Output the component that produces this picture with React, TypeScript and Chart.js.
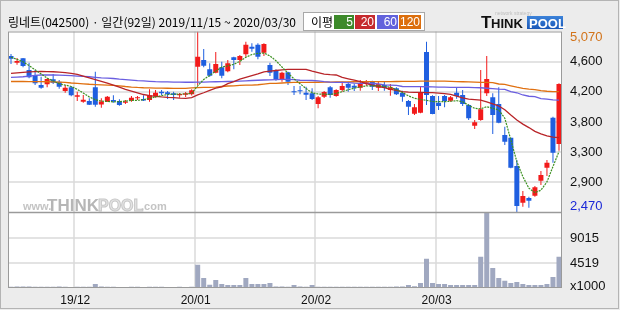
import React, { useEffect, useRef } from "react";
import { Chart, registerables } from "chart.js";

Chart.register(...registerables);

// ---------- data ----------
const dates = [
  "19/11/15","19/11/18","19/11/19","19/11/20","19/11/21","19/11/22","19/11/25","19/11/26","19/11/27","19/11/28","19/11/29",
  "19/12/02","19/12/03","19/12/04","19/12/05","19/12/06","19/12/09","19/12/10","19/12/11","19/12/12","19/12/13",
  "19/12/16","19/12/17","19/12/18","19/12/19","19/12/20","19/12/23","19/12/24","19/12/26","19/12/27","19/12/30",
  "20/01/02","20/01/03","20/01/06","20/01/07","20/01/08","20/01/09","20/01/10","20/01/13","20/01/14","20/01/15",
  "20/01/16","20/01/17","20/01/20","20/01/21","20/01/22","20/01/23","20/01/28","20/01/29","20/01/30","20/01/31",
  "20/02/03","20/02/04","20/02/05","20/02/06","20/02/07","20/02/10","20/02/11","20/02/12","20/02/13","20/02/14",
  "20/02/17","20/02/18","20/02/19","20/02/20","20/02/21","20/02/24","20/02/25","20/02/26","20/02/27","20/02/28",
  "20/03/02","20/03/03","20/03/04","20/03/05","20/03/06","20/03/09","20/03/10","20/03/11","20/03/12","20/03/13",
  "20/03/16","20/03/17","20/03/18","20/03/19","20/03/20","20/03/23","20/03/24","20/03/25","20/03/26","20/03/27",
  "20/03/30",
];

const openPrices = [
  4718,4622,4684,4517,4445,4301,4311,4383,4349,4215,
  4268,4134,4062,4072,4268,4020,4065,4086,4072,4048,
  4081,4110,4100,4086,4143,4206,4196,4182,4153,4160,
  4167,4565,4661,4526,4479,4555,4498,4699,4661,4742,
  4852,4881,4766,4589,4503,4373,4484,4206,4220,4191,
  4182,4029,4134,4268,4143,4230,4316,4292,4263,4316,
  4349,4263,4301,4230,4254,4191,4072,3890,3904,4775,
  4144,4048,4144,4077,4191,4158,4014,3717,3799,4182,
  4124,4029,3583,3545,3138,2611,2678,2712,2927,3114,
  3832,3454,
];
const highPrices = [
  4747,4689,4689,4622,4517,4421,4397,4459,4373,4301,
  4287,4206,4158,4110,4493,4110,4144,4153,4096,4086,
  4144,4144,4153,4240,4230,4230,4215,4206,4187,4200,
  4240,5070,4819,4613,4776,4637,4661,4708,4732,4924,
  4900,4900,4900,4622,4527,4493,4493,4287,4287,4278,
  4254,4144,4215,4287,4239,4349,4349,4320,4373,4373,
  4364,4349,4349,4316,4268,4220,4086,4029,4287,4924,
  4153,4144,4158,4144,4268,4230,4029,3799,4517,4718,
  4182,4268,3703,3545,3224,2779,2697,2851,3066,3224,
  3846,4325,
];
const lowPrices = [
  4603,4594,4555,4397,4301,4249,4268,4316,4249,4191,
  4139,4072,4048,4014,3990,3976,4058,4048,4005,4029,
  4062,4086,4072,4062,4120,4158,4100,4086,4120,4130,
  4150,4301,4555,4421,4469,4397,4483,4526,4589,4708,
  4780,4670,4718,4431,4364,4349,4301,4158,4167,4086,
  4086,3966,4115,4120,4134,4206,4206,4215,4220,4287,
  4230,4215,4220,4148,4158,4062,3871,3871,3894,4014,
  3880,3943,3981,4062,4105,4000,3799,3670,3789,4144,
  3598,3751,3440,3105,2470,2554,2539,2697,2865,2994,
  3186,3358,
];
const closePrices = [
  4680,4646,4574,4412,4325,4263,4388,4335,4278,4263,
  4153,4153,4091,4019,4019,4065,4132,4065,4014,4060,
  4120,4124,4078,4153,4191,4182,4167,4158,4172,4182,
  4225,4708,4579,4436,4603,4436,4613,4661,4718,4881,
  4823,4708,4890,4479,4383,4479,4349,4196,4211,4163,
  4100,4124,4201,4158,4230,4287,4263,4263,4325,4340,
  4278,4316,4258,4268,4167,4134,3990,3981,4196,4158,
  3885,4000,4072,4124,4143,4029,3823,3765,3952,4388,
  3870,3760,3487,3114,2564,2707,2640,2832,3009,3186,
  3330,4316,
];
// volume in thousands of shares
const volumes = [
  230,250,280,260,240,220,230,210,250,230,
  200,220,240,210,720,260,230,210,200,190,
  220,210,200,230,240,210,200,190,210,200,
  220,4150,1800,600,1440,720,540,540,540,1800,
  720,720,720,900,260,250,240,540,250,240,
  540,230,220,240,230,220,210,230,240,220,
  230,210,220,240,250,260,540,300,900,5230,
  900,720,720,540,540,540,540,540,5590,13523,
  3600,1800,1320,900,1080,720,540,540,540,720,
  1980,5590,
];
const ma5 = [
  4700,4670,4635,4580,4520,4460,4400,4360,4320,4300,
  4280,4240,4185,4130,4090,4070,4065,4060,4062,4070,
  4080,4082,4090,4110,4130,4150,4165,4170,4172,4172,
  4182,4290,4380,4440,4500,4560,4575,4600,4640,4700,
  4740,4755,4760,4720,4650,4560,4470,4390,4320,4250,
  4190,4172,4170,4165,4180,4206,4235,4255,4275,4287,
  4290,4290,4282,4270,4235,4195,4145,4110,4095,4080,
  4065,4062,4062,4068,4076,4060,4010,3966,3960,3990,
  3968,3942,3825,3515,3200,2985,2820,2755,2790,2910,
  3130,3345,
];
const ma20 = [
  4469,4475,4482,4490,4495,4497,4495,4492,4487,4480,
  4470,4455,4430,4405,4380,4355,4328,4300,4270,4240,
  4215,4190,4165,4150,4138,4130,4124,4120,4114,4110,
  4120,4160,4190,4225,4255,4275,4320,4350,4385,4410,
  4435,4460,4490,4500,4510,4520,4526,4526,4526,4526,
  4500,4480,4458,4450,4445,4410,4390,4370,4350,4320,
  4300,4280,4265,4240,4225,4206,4200,4196,4196,4193,
  4191,4185,4178,4167,4140,4115,4100,4092,4085,4060,
  4030,4000,3945,3870,3800,3740,3690,3635,3600,3570,
  3552,3545,
];
const ma60 = [
  4410,4415,4420,4430,4440,4445,4445,4445,4443,4440,
  4435,4430,4425,4420,4412,4405,4400,4395,4385,4380,
  4372,4365,4360,4355,4350,4347,4345,4343,4342,4341,
  4341,4342,4344,4346,4348,4350,4352,4355,4358,4362,
  4366,4370,4373,4376,4380,4383,4383,4380,4370,4368,
  4366,4360,4350,4343,4340,4338,4335,4328,4325,4325,
  4323,4318,4303,4300,4295,4280,4278,4278,4278,4276,
  4274,4272,4270,4268,4268,4267,4266,4265,4262,4255,
  4249,4242,4238,4206,4190,4158,4140,4134,4105,4100,
  4088,4084,
];
const ma120 = [
  4352,4352,4352,4350,4350,4350,4348,4346,4344,4340,
  4330,4325,4318,4312,4308,4304,4300,4296,4290,4280,
  4272,4266,4262,4260,4258,4256,4255,4254,4254,4254,
  4260,4265,4268,4268,4270,4280,4287,4290,4295,4300,
  4301,4305,4315,4325,4325,4330,4335,4340,4340,4340,
  4340,4341,4342,4344,4345,4346,4347,4348,4349,4349,
  4349,4350,4350,4351,4352,4353,4354,4355,4356,4357,
  4357,4357,4356,4354,4350,4348,4345,4342,4340,4338,
  4335,4316,4310,4290,4270,4254,4242,4236,4220,4212,
  4206,4205,
];

// axis values / labels
const priceMin = 2470;
const priceMax = 5070;
const priceTickLabels = ["5,070", "4,600", "4,200", "3,800", "3,300", "2,900", "2,470"];
const volMax = 13523;
const volTickValues = [9015, 4519];
const volTickLabels = ["9015", "4519"];
const volUnitLabel = "x1000";
const monthStartDates = ["19/12/02", "20/01/02", "20/02/03", "20/03/02"];
const monthLabels = ["19/12", "20/01", "20/02", "20/03"];
const titleText = "링네트(042500) · 일간(92일) 2019/11/15 ~ 2020/03/30";
const legendTitle = "이평";
const maLabels = ["5", "20", "60", "120"];

// ---------- styles ----------
const UP = "#f21a1a";
const DOWN = "#1f5fe0";
const VOL = "#a0a8c0";
const MA_COLORS = ["#3b9020", "#b82428", "#6a5ee0", "#e07010"];
const LEGEND_COLORS = ["#3d8a2b", "#c62a2e", "#6262dc", "#dc6e0c"];
const BG = "#ececec";
const GRID = "#dadada";
const BORDER = "#9a9a9a";
const NUM_FONT = "'Liberation Sans Narrow', 'Liberation Sans', sans-serif";

const framePlugin = {
  id: "frame",
  beforeDraw(chart: any) {
    const { ctx, chartArea: a, scales } = chart;
    const x = scales.x, y = scales.y, v = scales.v;
    ctx.save();
    ctx.fillStyle = BG;
    ctx.fillRect(0, 0, chart.width, chart.height);
    ctx.strokeStyle = "#b4b4b4";
    ctx.lineWidth = 1;
    ctx.strokeRect(0.5, 0.5, chart.width - 2, chart.height - 2);
    ctx.fillStyle = "#ffffff";
    ctx.fillRect(a.left, a.top, a.right - a.left, a.bottom - a.top);

    ctx.strokeStyle = GRID;
    ctx.lineWidth = 1.5;
    // price grid (6 equal divisions)
    for (let k = 1; k < priceTickLabels.length - 1; k++) {
      const py = Math.round(y.getPixelForValue(priceMax - (k * (priceMax - priceMin)) / (priceTickLabels.length - 1)));
      ctx.beginPath(); ctx.moveTo(a.left, py); ctx.lineTo(a.right, py); ctx.stroke();
    }
    for (const val of volTickValues) {
      const py = Math.round(v.getPixelForValue(val));
      ctx.beginPath(); ctx.moveTo(a.left, py); ctx.lineTo(a.right, py); ctx.stroke();
    }
    const slot = (a.right - a.left) / dates.length;
    for (const d of monthStartDates) {
      const idx = dates.indexOf(d);
      const px = Math.round(x.getPixelForValue(idx) - slot / 2);
      ctx.beginPath(); ctx.moveTo(px, a.top); ctx.lineTo(px, a.bottom); ctx.stroke();
    }

    // watermark
    const wy = y.bottom - 3;
    ctx.textBaseline = "alphabetic";
    ctx.textAlign = "left";
    ctx.fillStyle = "#c4c4c4";
    ctx.font = "bold 11px 'Liberation Sans', sans-serif";
    ctx.fillText("www.", 23, wy);
    ctx.fillStyle = "#b6b6b6";
    ctx.font = "bold 17px 'Liberation Sans', sans-serif";
    ctx.fillText("THINK", 47, wy + 1);
    ctx.font = "bold 16px 'Liberation Sans', sans-serif";
    ctx.fillStyle = "#e4e4e4";
    ctx.strokeStyle = "#c8c8c8";
    ctx.lineWidth = 1;
    ctx.fillText("POOL", 98, wy + 1);
    ctx.strokeText("POOL", 98, wy + 1);
    ctx.fillStyle = "#c4c4c4";
    ctx.font = "bold 11px 'Liberation Sans', sans-serif";
    ctx.fillText(".com", 141, wy);
    ctx.restore();
  },
  afterDraw(chart: any) {
    const { ctx, chartArea: a, scales } = chart;
    const x = scales.x, y = scales.y, v = scales.v;
    ctx.save();
    // borders
    ctx.strokeStyle = BORDER;
    ctx.lineWidth = 1;
    ctx.strokeRect(a.left + 0.5, a.top + 0.5, a.right - a.left - 1, a.bottom - a.top - 1);
    ctx.lineWidth = 1.5;
    ctx.beginPath(); ctx.moveTo(a.left, y.bottom); ctx.lineTo(a.right, y.bottom); ctx.stroke();

    // price labels
    ctx.font = "13px " + NUM_FONT;
    ctx.textAlign = "left";
    ctx.textBaseline = "middle";
    const n = priceTickLabels.length;
    for (let k = 0; k < n; k++) {
      let py = y.getPixelForValue(priceMax - (k * (priceMax - priceMin)) / (n - 1));
      py = Math.min(Math.max(py, y.top + 6), y.bottom - 6);
      ctx.fillStyle = k === 0 ? "#d2731a" : k === n - 1 ? "#1a28d8" : "#111111";
      ctx.fillText(priceTickLabels[k], a.right + 8, py);
    }
    ctx.fillStyle = "#111111";
    volTickValues.forEach((val, i) => {
      ctx.fillText(volTickLabels[i], a.right + 8, v.getPixelForValue(val) + 1);
    });
    ctx.fillText(volUnitLabel, a.right + 8, v.bottom - 2);

    // month labels
    const slot = (a.right - a.left) / dates.length;
    ctx.textAlign = "center";
    ctx.font = "12px 'Liberation Sans', sans-serif";
    monthStartDates.forEach((d, i) => {
      const idx = dates.indexOf(d);
      ctx.fillText(monthLabels[i], x.getPixelForValue(idx) - slot / 2 + 1, a.bottom + 13);
    });

    // title
    ctx.textAlign = "left";
    ctx.fillStyle = "#000000";
    ctx.font = "12px 'Noto Sans CJK KR', sans-serif";
    ctx.fillText(titleText, 8, 22.5);

    // MA legend box
    ctx.fillStyle = "#ffffff";
    ctx.fillRect(303, 12, 122, 19);
    ctx.strokeStyle = "#a8a8a8";
    ctx.lineWidth = 1;
    ctx.strokeRect(303.5, 12.5, 121, 18);
    ctx.fillStyle = "#000000";
    ctx.font = "12px 'Noto Sans CJK KR', sans-serif";
    ctx.fillText(legendTitle, 311, 22);
    const cellX = [334, 355, 377, 399];
    const cellW = [20, 20, 21, 22];
    ctx.font = "12px " + NUM_FONT;
    ctx.textAlign = "right";
    maLabels.forEach((lab, i) => {
      ctx.fillStyle = LEGEND_COLORS[i];
      ctx.fillRect(cellX[i], 15, cellW[i], 14);
      ctx.fillStyle = "#ffffff";
      ctx.fillText(lab, cellX[i] + cellW[i] - 1, 22.5);
    });

    // logo
    ctx.textAlign = "left";
    ctx.textBaseline = "alphabetic";
    ctx.fillStyle = "#111111";
    ctx.font = "bold 17px 'Liberation Sans', sans-serif";
    ctx.fillText("T", 481, 28);
    ctx.font = "bold 13px 'Liberation Sans', sans-serif";
    ctx.fillText("HINK", 491, 28);
    const grad = ctx.createLinearGradient(0, 15, 0, 29);
    grad.addColorStop(0, "#3f86dc");
    grad.addColorStop(1, "#1a58b8");
    ctx.fillStyle = grad;
    ctx.fillRect(527, 16, 36, 13);
    ctx.fillStyle = "#ffffff";
    ctx.font = "bold 13px 'Liberation Sans', sans-serif";
    ctx.fillText("POOL", 529, 28);
    ctx.fillStyle = "#c0c0c0";
    ctx.font = "5px 'Liberation Sans', sans-serif";
    ctx.fillText("network strategy", 495, 15);
    ctx.restore();
  },
};

export default function App() {
  const ref = useRef<HTMLCanvasElement | null>(null);
  useEffect(() => {
    if (!ref.current) return;
    const bodyColors = openPrices.map((o, i) => (closePrices[i] >= o ? UP : DOWN));
    const maSets = [ma5, ma20, ma60, ma120].map((d, i) => ({
      type: "line" as const,
      label: "MA" + maLabels[i],
      data: d,
      yAxisID: "y",
      borderColor: MA_COLORS[i],
      borderWidth: i === 0 ? 1.2 : 1.3,
      borderDash: i === 0 ? [2, 1] : [],
      pointRadius: 0,
      tension: 0,
      order: 0,
    }));
    const chart = new Chart(ref.current, {
      type: "bar",
      data: {
        labels: dates,
        datasets: [
          ...maSets,
          {
            type: "bar",
            label: "wick",
            data: lowPrices.map((l, i) => [l, highPrices[i]]),
            yAxisID: "y",
            backgroundColor: bodyColors,
            barThickness: 1,
            grouped: false,
            borderWidth: 0,
            inflateAmount: 0,
            order: 2,
          },
          {
            type: "bar",
            label: "body",
            data: openPrices.map((o, i) => [o, closePrices[i]]),
            yAxisID: "y",
            backgroundColor: bodyColors,
            barThickness: 5,
            minBarLength: 1,
            grouped: false,
            borderWidth: 0,
            inflateAmount: 0,
            order: 1,
          },
          {
            type: "bar",
            label: "volume",
            data: volumes,
            yAxisID: "v",
            backgroundColor: VOL,
            barThickness: 5,
            minBarLength: 1,
            grouped: false,
            borderWidth: 0,
            inflateAmount: 0,
            order: 3,
          },
        ] as any,
      },
      options: {
        responsive: false,
        animation: false,
        devicePixelRatio: 1,
        events: [],
        layout: { padding: { left: 8, right: 58, top: 31.5, bottom: 22 } },
        plugins: { legend: { display: false }, tooltip: { enabled: false } },
        scales: {
          x: { type: "category", offset: true, display: false, grid: { display: false } },
          y: {
            type: "linear", position: "right", stack: "panels", stackWeight: 181,
            min: priceMin, max: priceMax, display: false,
          },
          v: {
            type: "linear", position: "right", stack: "panels", stackWeight: 75.5,
            min: 0, max: volMax, display: false,
          },
        },
      } as any,
      plugins: [framePlugin],
    });
    return () => chart.destroy();
  }, []);
  return (
    <div style={{ position: "absolute", left: 0, top: 0, width: 620, height: 310 }}>
      <canvas ref={ref} width={620} height={310} style={{ display: "block", width: 620, height: 310 }} />
    </div>
  );
}
